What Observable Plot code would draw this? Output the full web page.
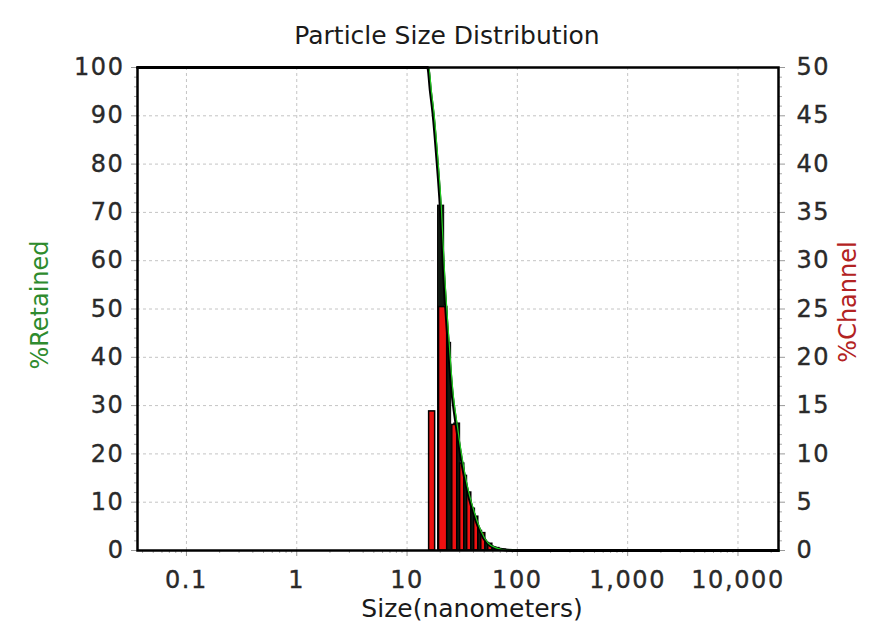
<!DOCTYPE html>
<html>
<head>
<meta charset="utf-8">
<script src="https://cdn.jsdelivr.net/npm/d3@7"></script>
<script src="https://cdn.jsdelivr.net/npm/@observablehq/plot@0.6"></script>
<style>
  html, body { margin: 0; padding: 0; background: #fff; }
  #chart svg { display: block; }
  #chart svg g[aria-label="y-axis tick label"] text,
  #chart svg g[aria-label="x-axis tick label"] text { letter-spacing: 1.6px; stroke: #2a2a2a; stroke-width: 0.35px; }
</style>
</head>
<body>
<div id="chart"></div>
<script>
// ---- data ----
const title = "Particle Size Distribution";
const xLabel = "Size(nanometers)";
const yLeftLabel = "%Retained";
const yRightLabel = "%Channel";

const xTicks = [0.1, 1, 10, 100, 1000, 10000];
const xTickLabels = ["0.1", "1", "10", "100", "1,000", "10,000"];
const yLeftTicks = [0, 10, 20, 30, 40, 50, 60, 70, 80, 90, 100];
const yRightTickLabels = ["0", "5", "10", "15", "20", "25", "30", "35", "40", "45", "50"];

// cumulative %Retained curve (size nm, %)
const cumSize = [0.036, 15.4, 16.3, 17.2, 18.7, 20, 21.5, 23.6, 25.5, 27.9, 30.5, 33, 36, 39, 42.5, 46, 53, 64, 79, 100, 23300];
const cumRetained = [100, 100, 95, 90.5, 80.7, 71.4, 57, 43, 33, 26, 20, 15.5, 11.5, 8.7, 6, 4, 1.6, 0.5, 0.1, 0, 0];

// dark cumulative step bars (size range nm, %Retained)
const stepLo = [19.1, 22.6, 26.8, 32.3, 37.4, 44.2, 51.2, 59.3, 68.6];
const stepHi = [21.7, 25.1, 30.3, 35.1, 41.4, 48.0, 55.5, 64.4, 79];
const stepRetained = [71.4, 43, 26.3, 15.5, 8.7, 4.1, 1.6, 0.6, 0.2];

// red %Channel bars (size range nm, %Channel)
const chanLo = [15.85, 19.5, 25.7, 30.3, 35.1, 40.6, 47.1, 54.5, 63.1];
const chanHi = [17.97, 23.1, 28.5, 33.0, 38.2, 44.2, 51.2, 59.3, 68.6];
const chanPct = [14.4, 25.2, 13, 9, 6, 3.5, 1.8, 0.7, 0.25];

// ---- build tables ----
const curve = cumSize.map((s, i) => ({size: s, ret: cumRetained[i]}));
const steps = stepLo.map((lo, i) => ({lo, hi: stepHi[i], ret: stepRetained[i]}));
const chans = chanLo.map((lo, i) => ({lo, hi: chanHi[i], pct: chanPct[i]}));

const minorX = [];
for (let e = -2; e <= 4; e++) for (let m = 2; m <= 9; m++) {
  const v = m * Math.pow(10, e);
  if (v > 0.036 && v < 23300) minorX.push(v);
}
const minorY = d3.range(0, 101, 2).filter(v => v % 10 !== 0);

const grid = {stroke: "#c4c4c4", strokeOpacity: 1, strokeDasharray: "3,3", strokeWidth: 1};
const tickFont = 24;
const tickColor = "#2a2a2a";

const chart = Plot.plot({
  width: 886,
  height: 625,
  marginLeft: 137,
  marginRight: 108,
  marginTop: 67,
  marginBottom: 75,
  style: {fontFamily: "DejaVu Sans, sans-serif", fontSize: tickFont + "px", color: tickColor, background: "#fff"},
  x: {type: "log", domain: [0.036, 23300]},
  y: {domain: [0, 100]},
  marks: [
    Plot.gridX(xTicks, grid),
    Plot.gridY(yLeftTicks.slice(1, -1), grid),
    // left axis
    Plot.axisY({anchor: "left", ticks: yLeftTicks, tickSize: 6, tickPadding: 7, stroke: "#999", fill: tickColor, fontSize: tickFont, label: null}),
    Plot.axisY({anchor: "left", ticks: minorY, tickSize: 3, tickFormat: () => "", stroke: "#aaa", label: null}),
    // right axis (same positions, half values)
    Plot.axisY({anchor: "right", ticks: yLeftTicks, tickSize: 6, tickPadding: 12, stroke: "#999", fill: tickColor, fontSize: tickFont,
      tickFormat: d => yRightTickLabels[yLeftTicks.indexOf(d)], label: null}),
    Plot.axisY({anchor: "right", ticks: minorY, tickSize: 3, tickFormat: () => "", stroke: "#aaa", label: null}),
    // x axis
    Plot.axisX({anchor: "bottom", ticks: xTicks, tickSize: 6, tickPadding: 14, stroke: "#999", fill: tickColor, fontSize: tickFont,
      tickFormat: d => xTickLabels[xTicks.indexOf(d)], label: null}),
    Plot.axisX({anchor: "bottom", ticks: minorX, tickSize: 3, tickFormat: () => "", stroke: "#aaa", label: null}),
    // dark cumulative step bars
    Plot.rectY(steps, {x1: "lo", x2: "hi", y: "ret", fill: "#101810", stroke: "#000", strokeWidth: 1}),
    // red channel bars (right scale 0-50 mapped onto 0-100)
    Plot.rectY(chans, {x1: "lo", x2: "hi", y: d => d.pct * 2, fill: "#ee1111", stroke: "#000", strokeWidth: 1.5}),
    // cumulative curve
    Plot.line(curve, {x: "size", y: "ret", stroke: "#000", strokeWidth: 3, curve: "monotone-x"}),
    Plot.line(curve, {x: "size", y: "ret", stroke: "#22cc22", strokeWidth: 1.2, curve: "monotone-x", dx: 1}),
    Plot.frame({stroke: "#000", strokeWidth: 2.5}),
    // titles
    Plot.text([title], {frameAnchor: "top", lineAnchor: "middle", textAnchor: "middle", dy: -32, dx: -11, fontSize: 25, fill: "#1a1a1a"}),
    Plot.text([xLabel], {frameAnchor: "bottom", lineAnchor: "middle", textAnchor: "middle", dy: 58, dx: 14, fontSize: 25, fill: "#1a1a1a"}),
    Plot.text([yLeftLabel], {frameAnchor: "left", lineAnchor: "middle", textAnchor: "middle", dx: -97, dy: -4, rotate: -90, fontSize: 24, fill: "#2e8b2e"}),
    Plot.text([yRightLabel], {frameAnchor: "right", lineAnchor: "middle", textAnchor: "middle", dx: 70, dy: -7, rotate: -90, fontSize: 24, fill: "#b22222"})
  ]
});
document.getElementById("chart").appendChild(chart);
</script>
</body>
</html>
